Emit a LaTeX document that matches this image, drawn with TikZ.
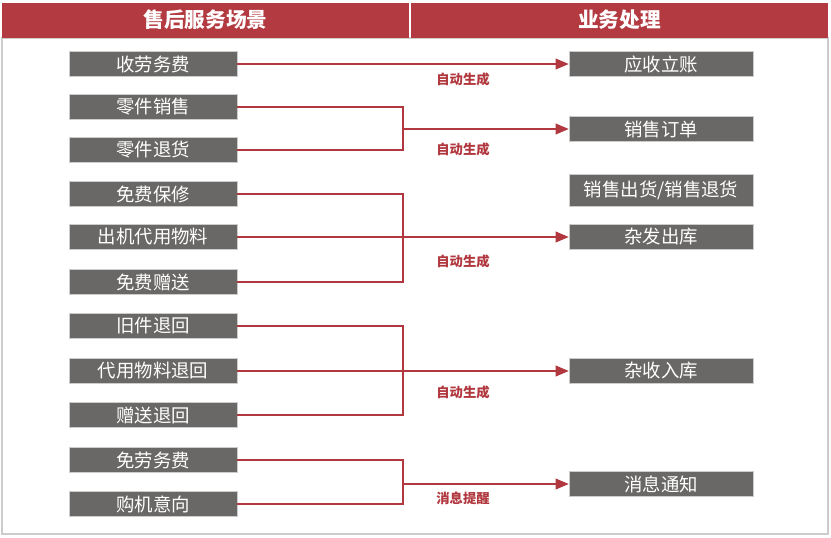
\documentclass[tikz,border=0pt]{standalone}
\usepackage{fontspec}
\setmainfont{Noto Sans CJK SC}
\usetikzlibrary{arrows}
\definecolor{kopfrot}{HTML}{B23A40}
\definecolor{kasten}{HTML}{696866}
\definecolor{linie}{HTML}{B0383E}
\definecolor{rahmen}{HTML}{CCCCCC}

\begin{document}
\begin{tikzpicture}[x=0.75pt,y=-0.75pt,
    szene/.style={draw=rahmen, fill=kasten, text=white, minimum width=126pt, minimum height=18.75pt, inner sep=0pt, font=\fontsize{13.8pt}{13.8pt}\selectfont},
    vorgang/.style={szene, minimum width=138pt},
    hinweis/.style={text=linie, font=\bfseries\fontsize{10pt}{10pt}\selectfont},
    pfeil/.style={linie, line width=1.3pt}]
    \useasboundingbox (0,0) rectangle (831,537);
    \fill[white] (0,0) rectangle (831,537);
    \draw[rahmen, line width=1.5pt] (2,38) rectangle (828,534);  %Rahmen
    \fill[kopfrot] (2,3) rectangle (409,38);  %linker Kopf
    \fill[kopfrot] (411,3) rectangle (828,38);  %rechter Kopf
    \node[text=white, font=\bfseries\fontsize{15.5pt}{15.5pt}\selectfont] (kopfL) at (205.5,20) {售后服务场景};
    \node[text=white, font=\bfseries\fontsize{15.5pt}{15.5pt}\selectfont] (kopfR) at (619.5,20) {业务处理};
    \foreach \name/\text/\y in  %Szenen links
    {
      l1/收劳务费/64, l2/零件销售/107, l3/零件退货/150,
      l4/免费保修/194, l5/出机代用物料/237, l6/免费赠送/282,
      l7/旧件退回/326, l8/代用物料退回/371, l9/赠送退回/415,
      l10/免劳务费/460, l11/购机意向/504
    }
    {
      \node[szene] (\name) at (153,\y) {\text};
    };
    \foreach \name/\text/\y in  %Vorgaenge rechts
    {
      r1/应收立账/64, r2/销售订单/129, r4/杂发出库/237,
      r5/杂收入库/371, r6/消息通知/484
    }
    {
      \node[vorgang] (\name) at (661,\y) {\text};
    };
    \node[vorgang, minimum height=24pt] (r3) at (661,190) {销售出货/销售退货};
    \coordinate (j2) at (403,129);
    \coordinate (j4) at (403,237);
    \coordinate (j5) at (403,371);
    \coordinate (j6) at (403,484);
    \draw[pfeil, -triangle 45] (l1) -- (r1);
    \draw[pfeil] (l2) -| (j2);
    \draw[pfeil] (l3) -| (j2);
    \draw[pfeil, -triangle 45] (j2) -- (r2);
    \draw[pfeil] (l4) -| (j4);
    \draw[pfeil] (l6) -| (j4);
    \draw[pfeil, -triangle 45] (l5) -- (r4);
    \draw[pfeil] (l7) -| (j5);
    \draw[pfeil] (l9) -| (j5);
    \draw[pfeil, -triangle 45] (l8) -- (r5);
    \draw[pfeil] (l10) -| (j6);
    \draw[pfeil] (l11) -| (j6);
    \draw[pfeil, -triangle 45] (j6) -- (r6);
    \node[hinweis] (t1) at (463,79) {自动生成};
    \node[hinweis] (t2) at (463,149) {自动生成};
    \node[hinweis] (t4) at (463,261) {自动生成};
    \node[hinweis] (t5) at (463,392) {自动生成};
    \node[hinweis] (t6) at (463,498) {消息提醒};
\end{tikzpicture}
\end{document}
